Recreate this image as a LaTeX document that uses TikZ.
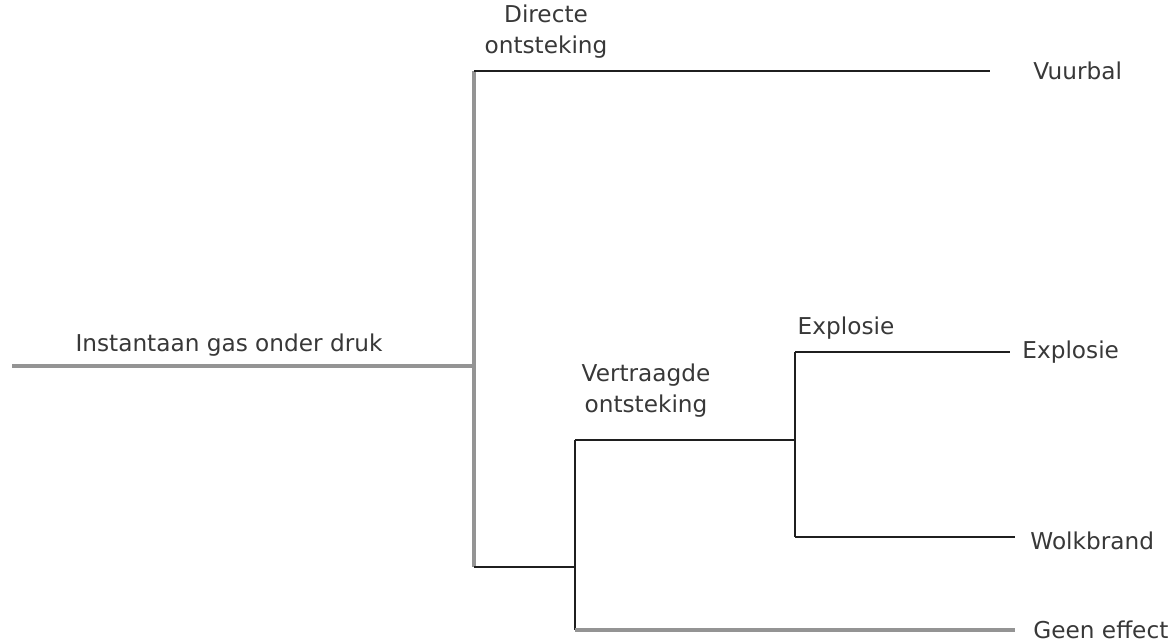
\documentclass[tikz,border=0pt]{standalone}
\usepackage{fontspec}
\setmainfont{DejaVu Sans}
\usetikzlibrary{positioning}

\begin{document}
\begin{tikzpicture}[x=0.5pt, y=-0.5pt,
    every node/.style={font=\fontsize{11.6}{15.5}\selectfont, text=black!78, inner sep=0pt},
    tak/.style={align=center},
    uitkomst/.style={anchor=west},
    grijs/.style={draw=black!42, line width=1.7pt},
    zwart/.style={draw=black!88, line width=1.1pt}]

    \useasboundingbox (0,0) rectangle (1173,643);

    % vertakkingspunten
    \coordinate (start) at (12,366);
    \coordinate (splits1) at (474,366);
    \coordinate (direct) at (474,71);
    \coordinate (laag1) at (474,567);
    \coordinate (splits2) at (575,567);
    \coordinate (vertraagd) at (575,440);
    \coordinate (geen) at (575,630);
    \coordinate (splits3) at (795,440);
    \coordinate (expl) at (795,352);
    \coordinate (wolk) at (795,537);

    % teksten
    \node (gas) at (229,345) {Instantaan gas onder druk};
    \node (directe) [tak] at (546,32) {Directe\\ontsteking};
    \node (vertraagde) [tak] at (646,391) {Vertraagde\\ontsteking};
    \node (explosie1) at (846,328) {Explosie};

    \node (vuurbal) [uitkomst] at (1033,71) {Vuurbal};
    \node (explosie2) [uitkomst] at (1022,352) {Explosie};
    \node (wolkbrand) [uitkomst] at (1030,541) {Wolkbrand};
    \node (geeneffect) [uitkomst] at (1033,630) {Geen effect};

    % lijnen
    \draw[grijs] (start) -- (splits1);
    \draw[grijs] (direct) -- (laag1);
    \draw[zwart] (direct) -- ([xshift=-21.5pt]vuurbal.west |- direct);
    \draw[zwart] (laag1) -- (splits2);
    \draw[zwart] (vertraagd) -- (geen);
    \draw[zwart] (vertraagd) -- (splits3);
    \draw[zwart] (expl) -- (wolk);
    \draw[zwart] (expl) -- ([xshift=-6pt]explosie2.west |- expl);
    \draw[zwart] (wolk) -- ([xshift=-7.5pt]wolkbrand.west |- wolk);
    \draw[grijs] (geen) -- ([xshift=-9pt]geeneffect.west |- geen);

\end{tikzpicture}
\end{document}
